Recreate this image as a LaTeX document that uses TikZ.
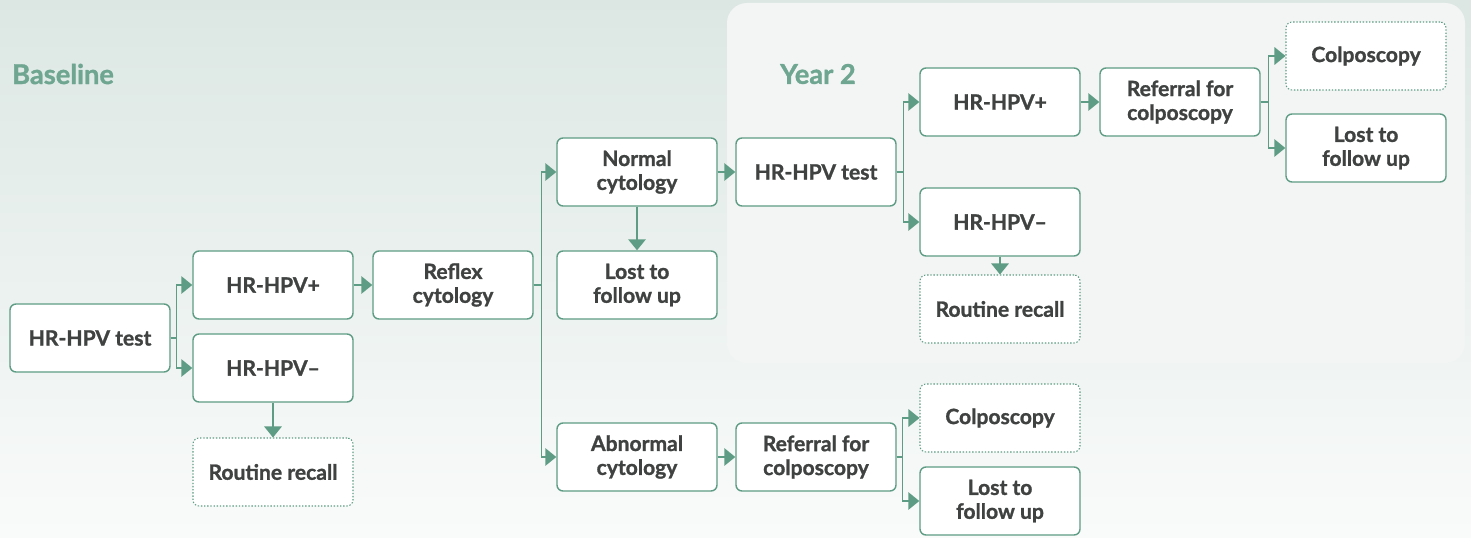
\documentclass[tikz,border=0pt]{standalone}
\usepackage{fontspec}
\setmainfont{Lato}[BoldFeatures={FakeBold=1.2}]
\usepackage{xcolor}
\definecolor{flowGreen}{HTML}{5F9C85}
\definecolor{flowText}{HTML}{3F4241}
\definecolor{bgTop}{HTML}{DCE7E3}
\definecolor{bgBottom}{HTML}{F9FBFA}
\definecolor{panelFill}{HTML}{F2F5F4}
\usepackage{tikz}
\usetikzlibrary{arrows.meta}

\begin{document}
\begin{tikzpicture}[>={Triangle[length=0.22cm,width=0.35cm]},
    box/.style={draw=flowGreen, fill=white, line width=0.8pt, rounded corners=0.12cm,
      minimum width=3.2cm, minimum height=1.36cm, align=center, text=flowText,
      font=\fontsize{12}{13.6}\selectfont\bfseries},
    endbox/.style={box, densely dotted, line width=0.6pt},
    link/.style={draw=flowGreen, line width=0.8pt, ->},
    stage/.style={anchor=west, text=flowGreen!90, font=\fontsize{15.5}{17}\selectfont\bfseries}]
  % ---- background and year 2 panel ----
  \shade[top color=bgTop, bottom color=bgBottom] (0,0) rectangle (29.42,-10.74);
  \fill[panelFill, rounded corners=0.4cm] (14.54,-0.06) rectangle (29.30,-7.26);
  \useasboundingbox (0,0) rectangle (29.42,-10.74);

  \node[stage] (baseline) at (0.12,-1.48) {Baseline};
  \node[stage] (year2) at (15.48,-1.48) {Year 2};

  % ---- baseline ----
  \node[box] (test) at (1.80,-6.76) {HR-HPV test};
  \node[box] (pos) at (5.46,-5.70) {HR-HPV+};
  \node[box] (neg) at (5.46,-7.36) {HR-HPV--};
  \node[endbox] (recall) at (5.46,-9.44) {Routine recall};
  \node[box] (reflex) at (9.06,-5.70) {Reflex\\cytology};
  \node[box] (normal) at (12.74,-3.44) {Normal\\cytology};
  \node[box] (lost) at (12.74,-5.70) {Lost to\\follow up};
  \node[box] (abnormal) at (12.74,-9.14) {Abnormal\\cytology};
  \node[box] (referral) at (16.32,-9.14) {Referral for\\colposcopy};
  \node[endbox] (colpo) at (20.00,-8.36) {Colposcopy};
  \node[box] (lostB) at (20.00,-10.02) {Lost to\\follow up};

  % ---- year 2 ----
  \node[box] (testY) at (16.32,-3.44) {HR-HPV test};
  \node[box] (posY) at (20.00,-2.04) {HR-HPV+};
  \node[box] (negY) at (20.00,-4.44) {HR-HPV--};
  \node[endbox] (recallY) at (20.00,-6.18) {Routine recall};
  \node[box] (referralY) at (23.60,-2.04) {Referral for\\colposcopy};
  \node[endbox] (colpoY) at (27.32,-1.12) {Colposcopy};
  \node[box] (lostY) at (27.32,-2.96) {Lost to\\follow up};

  % ---- connectors ----
  \draw[link] (test.east) -- ++(0.12,0) |- (pos.west);
  \draw[link] (test.east) -- ++(0.12,0) |- (neg.west);
  \draw[link] (neg.south) -- (recall.north);
  \draw[link] (pos.east) -- (reflex.west);
  \draw[link] (reflex.east) -- ++(0.16,0) |- (normal.west);
  \draw[link] (reflex.east) -- ++(0.16,0) |- (abnormal.west);
  \draw[link] (normal.south) -- (lost.north);
  \draw[link] (normal.east) -- (testY.west);
  \draw[link] (abnormal.east) -- (referral.west);
  \draw[link] (referral.east) -- ++(0.12,0) |- (colpo.west);
  \draw[link] (referral.east) -- ++(0.12,0) |- (lostB.west);
  \draw[link] (testY.east) -- ++(0.14,0) |- (posY.west);
  \draw[link] (testY.east) -- ++(0.14,0) |- (negY.west);
  \draw[link] (negY.south) -- (recallY.north);
  \draw[link] (posY.east) -- (referralY.west);
  \draw[link] (referralY.east) -- ++(0.16,0) |- (colpoY.west);
  \draw[link] (referralY.east) -- ++(0.16,0) |- (lostY.west);
\end{tikzpicture}
\end{document}
